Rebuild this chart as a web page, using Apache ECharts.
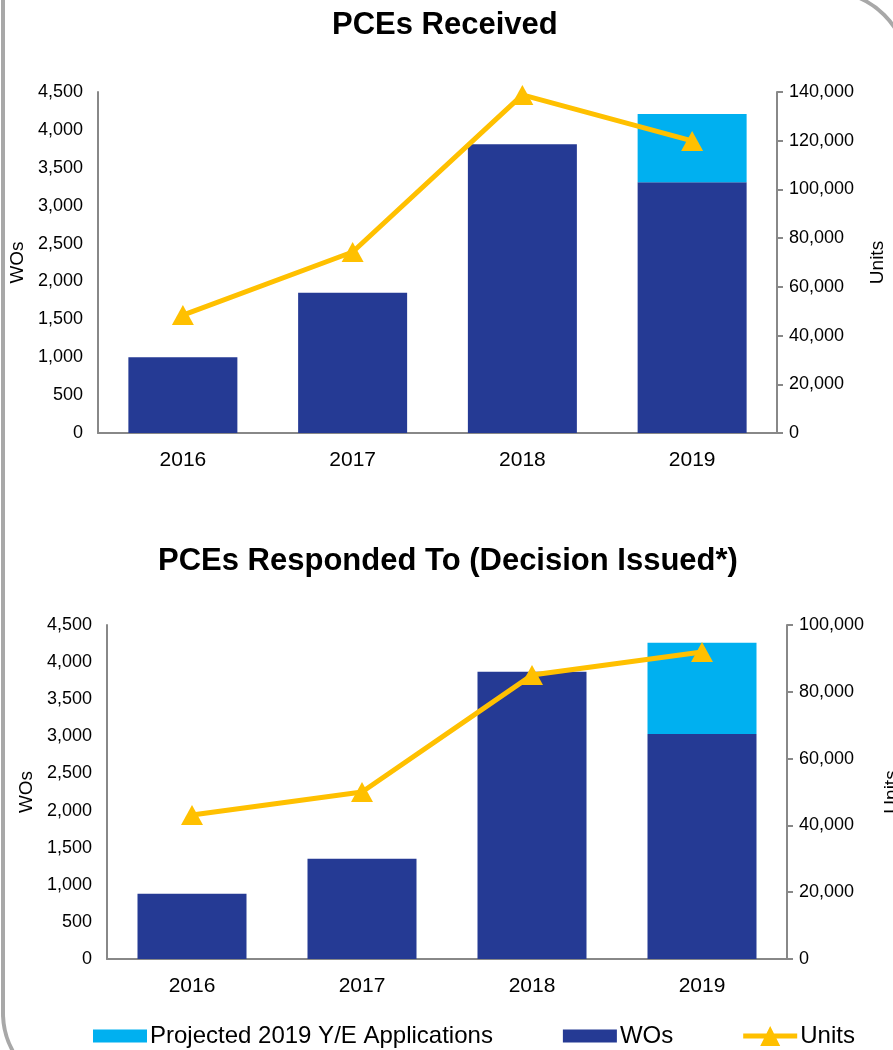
<!DOCTYPE html>
<html>
<head>
    <meta charset="utf-8" />
    <title>PCEs</title>
    <script src="https://cdn.jsdelivr.net/npm/echarts@6/dist/echarts.min.js"></script>
    <style>
        body { margin: 0; padding: 0; overflow: hidden; background: #fff; }
        #wrap { position: relative; width: 893px; height: 1050px; overflow: hidden; }
        #main { width: 893px; height: 1050px; }
        #frame {
            position: absolute; left: 1px; top: -10px; width: 908px; height: 1103px;
            box-sizing: border-box; border: 4px solid #a8a8a8;
            border-radius: 0 80px 80px 80px;
            pointer-events: none;
        }
    </style>
</head>
<body>
<div id="wrap">
    <div id="main"></div>
    <div id="frame"></div>
</div>
<script type="text/javascript">
    // 数据
    var years = ['2016', '2017', '2018', '2019'];
    var recvWOs = [1000, 1850, 3810, 3310];
    var recvProj = [null, null, null, 900];
    var recvUnits = [48400, 74300, 138800, 119900];
    var respWOs = [880, 1350, 3870, 3030];
    var respProj = [null, null, null, 1230];
    var respUnits = [43100, 50000, 85000, 91900];

    var dark = '#253a94', light = '#00b0f0', gold = '#ffc000', axisGrey = '#888888';
    var font = 'Liberation Sans, Arial, sans-serif';

    // 图例图标 (54x20 的框)
    var rectIcon = 'path://M0,0 M54,20 M0,3.5 L54,3.5 L54,16.5 L0,16.5 Z';
    var lineIcon = 'path://M0,7.5 L23.25,7.5 L27,0 L30.75,7.5 L54,7.5 L54,12.5 L33.25,12.5 L37,20 L17,20 L20.75,12.5 L0,12.5 Z';

    function fmt(v) { return Number(v).toLocaleString('en-US'); }

    function xAxis(idx) {
        return {
            type: 'category', gridIndex: idx, data: years,
            axisLine: { lineStyle: { color: axisGrey, width: 2 } },
            axisTick: { show: false },
            axisLabel: { color: '#000', fontSize: 21, fontFamily: font, margin: 17 }
        };
    }
    function leftAxis(idx, gap) {
        return {
            type: 'value', gridIndex: idx, min: 0, max: 4500, interval: 500,
            name: 'WOs', nameLocation: 'middle', nameGap: gap, nameRotate: 90,
            nameTextStyle: { color: '#000', fontSize: 19, fontFamily: font },
            axisLine: { show: true, lineStyle: { color: axisGrey, width: 2 } },
            axisTick: { show: false },
            splitLine: { show: false },
            axisLabel: { color: '#000', fontSize: 18, fontFamily: font, margin: 15, formatter: fmt }
        };
    }
    function rightAxis(idx, max, gap) {
        return {
            type: 'value', gridIndex: idx, position: 'right', min: 0, max: max, interval: 20000,
            name: 'Units', nameLocation: 'middle', nameGap: gap, nameRotate: 90,
            nameTextStyle: { color: '#000', fontSize: 19, fontFamily: font },
            axisLine: { show: true, lineStyle: { color: axisGrey, width: 2 } },
            axisTick: { show: true, length: 6, lineStyle: { color: axisGrey, width: 2 } },
            splitLine: { show: false },
            axisLabel: { color: '#000', fontSize: 18, fontFamily: font, margin: 12, formatter: fmt }
        };
    }
    function bars(idx, wos, proj, units) {
        return [
            { name: 'WOs', type: 'bar', stack: 's' + idx, xAxisIndex: idx, yAxisIndex: idx * 2,
              barWidth: 109, itemStyle: { color: dark }, data: wos },
            { name: 'Projected 2019 Y/E Applications', type: 'bar', stack: 's' + idx, xAxisIndex: idx, yAxisIndex: idx * 2,
              barWidth: 109, itemStyle: { color: light }, data: proj },
            { name: 'Units', type: 'line', xAxisIndex: idx, yAxisIndex: idx * 2 + 1,
              symbol: 'triangle', symbolSize: [22, 20],
              lineStyle: { color: gold, width: 5 }, itemStyle: { color: gold }, data: units }
        ];
    }

    var myChart = echarts.init(document.getElementById('main'));
    myChart.setOption({
        animation: false,
        title: [
            { text: 'PCEs Received', left: 327, top: 5,
              textStyle: { fontSize: 31, fontWeight: 'bold', color: '#000', fontFamily: font } },
            { text: 'PCEs Responded To (Decision Issued*)', left: 153, top: 541,
              textStyle: { fontSize: 31, fontWeight: 'bold', color: '#000', fontFamily: font } }
        ],
        legend: {
            data: [
                { name: 'Projected 2019 Y/E Applications', icon: rectIcon },
                { name: 'WOs', icon: rectIcon },
                { name: 'Units', icon: lineIcon }
            ],
            left: 93, top: 1024, padding: 0, itemWidth: 54, itemHeight: 20, itemGap: 70,
            textStyle: { fontSize: 24, color: '#000', fontFamily: font, padding: [0, 0, 0, -2] }
        },
        grid: [
            { left: 98, right: 116, top: 92, height: 341, containLabel: false, outerBoundsMode: 'none' },
            { left: 107, right: 106, top: 625, height: 334, containLabel: false, outerBoundsMode: 'none' }
        ],
        xAxis: [xAxis(0), xAxis(1)],
        yAxis: [leftAxis(0, 70), rightAxis(0, 140000, 91), leftAxis(1, 69), rightAxis(1, 100000, 95)],
        series: bars(0, recvWOs, recvProj, recvUnits).concat(bars(1, respWOs, respProj, respUnits))
    });
</script>
</body>
</html>
